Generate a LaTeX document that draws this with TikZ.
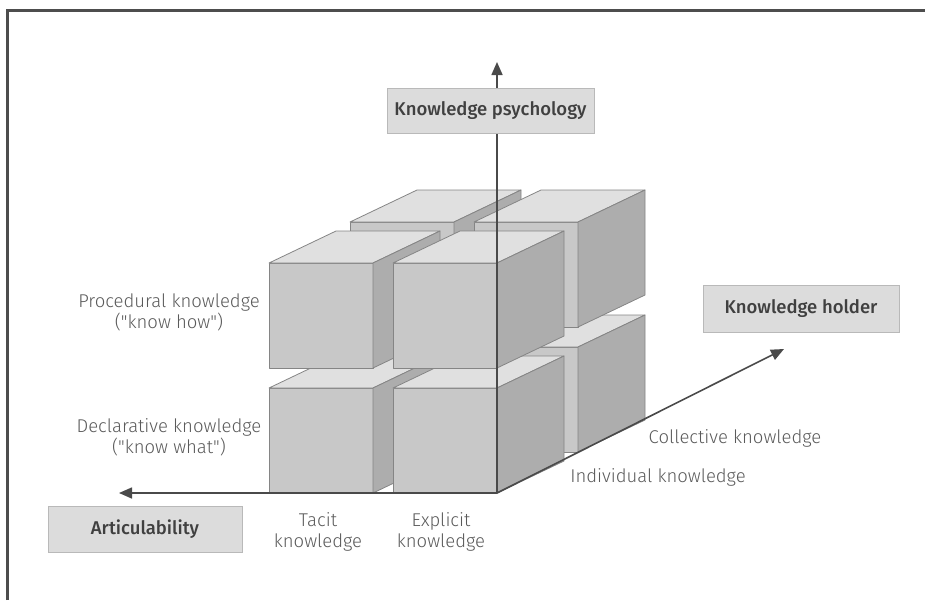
\documentclass[tikz,border=0pt]{standalone}
\usepackage{fontspec}
\setmainfont{Fira Sans}[UprightFont=* Light, BoldFont=* Medium]
\usetikzlibrary{arrows.meta}
\definecolor{frontc}{HTML}{C8C8C8}
\definecolor{topc}{HTML}{E0E0E0}
\definecolor{sidec}{HTML}{ADADAD}
\definecolor{edgec}{HTML}{858585}
\definecolor{axisc}{HTML}{4A4A4A}
\definecolor{framec}{HTML}{4D4D4D}
\definecolor{textc}{HTML}{5A5A5A}
\definecolor{boxfill}{HTML}{DCDCDC}
\definecolor{boxline}{HTML}{B9B9B9}
\definecolor{boxtext}{HTML}{404040}

% one block: #1 = left edge of the front face, #2 = its bottom edge
\newcommand\drawblock[2]{%
  \begin{scope}[shift={(#1,#2)}]
    \filldraw[face, fill=frontc] (0,0) rectangle (104,-105);
    \filldraw[face, fill=topc] (0,-105) -- (67,-137) -- (171,-137) -- (104,-105) -- cycle;
    \filldraw[face, fill=sidec] (104,0) -- (171,-32) -- (171,-137) -- (104,-105) -- cycle;
  \end{scope}}

\begin{document}
\begin{tikzpicture}[x=1pt, y=-1pt,
  face/.style={draw=edgec, line width=0.8pt, line join=round},
  axis/.style={draw=axisc, line width=1.6pt, -{Triangle[length=13pt, width=11pt]}},
  axislabel/.style={draw=boxline, fill=boxfill, line width=1pt, text=boxtext,
    font=\bfseries\fontsize{18.5}{22}\selectfont, inner sep=0pt},
  lbl/.style={text=textc, align=center, font=\fontsize{18.5}{21}\selectfont, inner sep=0pt}]

\useasboundingbox (0,0) rectangle (925,600);

% frame along the top and left edges
\draw[framec, line width=3pt] (7,600) -- (7,10.5) -- (925,10.5);

% back row of blocks
\drawblock{350}{452}
\drawblock{474}{452}
\drawblock{350}{327}
\drawblock{474}{327}
% front row of blocks
\drawblock{269}{493}
\drawblock{393}{493}
\drawblock{269}{368}
\drawblock{393}{368}

% axes
\coordinate (O) at (497,493);
\coordinate (upend) at (497,62);
\coordinate (leftend) at (119,493);
\coordinate (deepend) at (784,349);
\draw[axis] (O) -- (upend);
\draw[axis] (O) -- (leftend);
\draw[axis] (O) -- (deepend);

% axis titles
\node[axislabel, minimum width=207pt, minimum height=45pt] (psych) at (490.5,110.5) {Knowledge psychology};
\node[axislabel, minimum width=196pt, minimum height=47pt] (holder) at (801,308.5) {Knowledge holder};
\node[axislabel, minimum width=194pt, minimum height=46pt] (artic) at (145,529) {Articulability};

% category labels
\node[lbl] (proc) at (169,312.5) {Procedural knowledge\\(\textquotedbl know how\textquotedbl)};
\node[lbl] (decl) at (169,437.5) {Declarative knowledge\\(\textquotedbl know what\textquotedbl)};
\node[lbl] (tacit) at (318,532) {Tacit\\knowledge};
\node[lbl] (expl) at (441,532) {Explicit\\knowledge};
\node[lbl] (coll) at (735,438) {Collective knowledge};
\node[lbl] (indiv) at (658,477) {Individual knowledge};
\end{tikzpicture}
\end{document}
